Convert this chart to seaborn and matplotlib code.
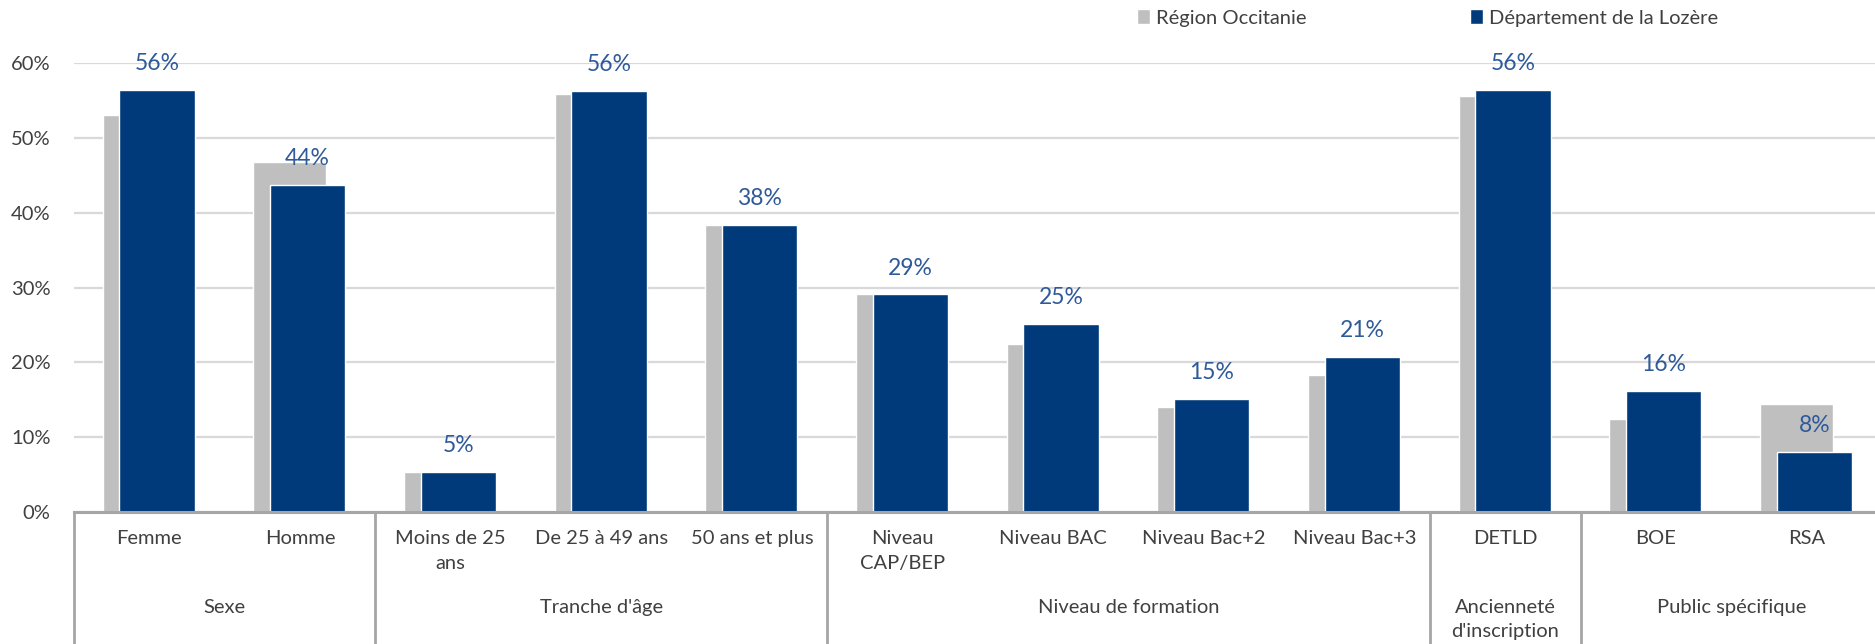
import matplotlib
matplotlib.use('Agg')
import matplotlib.pyplot as plt
import matplotlib.transforms as mtransforms
import numpy as np
import pandas as pd
import seaborn as sns

# données
categories = ['Femme', 'Homme', 'Moins de 25\nans', 'De 25 à 49 ans', '50 ans et plus',
              'Niveau\nCAP/BEP', 'Niveau BAC', 'Niveau Bac+2', 'Niveau Bac+3',
              'DETLD', 'BOE', 'RSA']
groups = ['Sexe', "Tranche d'âge", 'Niveau de formation', 'Ancienneté\nd\'inscription', 'Public spécifique']
group_sizes = [2, 3, 4, 1, 2]
region = [0.531, 0.468, 0.054, 0.559, 0.384, 0.292, 0.225, 0.140, 0.183, 0.557, 0.124, 0.144]
lozere = [0.565, 0.437, 0.053, 0.563, 0.384, 0.291, 0.251, 0.151, 0.207, 0.564, 0.162, 0.080]
labels = ['56%', '44%', '5%', '56%', '38%', '29%', '25%', '15%', '21%', '56%', '16%', '8%']
yticks = [0, 0.1, 0.2, 0.3, 0.4, 0.5, 0.6]

GRAY = '#BFBFBF'
NAVY = '#003A7A'
LABEL_BLUE = '#2F5A9A'
TEXT = '#404040'

sns.set_style('white')
plt.rcParams['font.family'] = ['Lato', 'DejaVu Sans']

idx = np.arange(len(categories))
df = pd.DataFrame({'x_reg': idx - 0.0675, 'x_loz': idx + 0.05,
                   'region': region, 'lozere': lozere})

fig = plt.figure(figsize=(18.75, 6.44), dpi=100)
ax = fig.add_axes([74 / 1875, 132 / 644, 1808 / 1875, (512 - 63.4) / 644])

sns.barplot(data=df, x='x_reg', y='region', native_scale=True, orient='x',
            color=GRAY, saturation=1, width=0.485, errorbar=None,
            label='Région Occitanie', ax=ax, zorder=2)
sns.barplot(data=df, x='x_loz', y='lozere', native_scale=True, orient='x',
            color=NAVY, saturation=1, width=0.5, errorbar=None,
            label='Département de la Lozère', ax=ax, zorder=3)
h, l = ax.get_legend_handles_labels()
if ax.get_legend() is not None:
    ax.get_legend().remove()

# étiquettes de données
for xi, yi, lab in zip(df['x_loz'], lozere, labels):
    ax.annotate(lab, (xi, yi), xytext=(0, 19), textcoords='offset points',
                ha='center', va='center', fontsize=16.5, color=LABEL_BLUE,
                annotation_clip=False, zorder=5)

ax.set_xlim(-0.5, len(categories) - 0.5)
ax.set_ylim(0, 0.6)
ax.set_yticks(yticks)
ax.set_yticklabels([f'{int(round(t * 100))}%' for t in yticks], fontsize=14.5, color=TEXT)
ax.tick_params(axis='y', length=0, pad=17)
ax.set_xticks(idx)
ax.set_xticklabels(categories, fontsize=14.5, color=TEXT, linespacing=1.55)
ax.tick_params(axis='x', length=0, pad=13)
ax.set_xlabel('')
ax.set_ylabel('')

ax.grid(axis='y', color='#D9D9D9', linewidth=1.6, zorder=0)
ax.set_axisbelow(True)
for s in ['left', 'right', 'top']:
    ax.spines[s].set_visible(False)
ax.spines['bottom'].set_color('#A6A6A6')
ax.spines['bottom'].set_linewidth(2.2)
ax.spines['bottom'].set_zorder(4)

# axe multi-niveaux
trans = mtransforms.blended_transform_factory(ax.transData, ax.transAxes)
bounds = np.concatenate([[0], np.cumsum(group_sizes)]) - 0.5
for b in bounds:
    ax.plot([b, b], [0, -0.4], transform=trans, color='#A6A6A6', lw=2,
            clip_on=False, zorder=4)
for g, a, b in zip(groups, bounds[:-1], bounds[1:]):
    ax.text((a + b) / 2, -0.193, g, transform=trans, ha='center', va='top',
            fontsize=14.5, color=TEXT, linespacing=1.5)

# légende
fig.legend(h, l, loc='center left', bbox_to_anchor=(1119 / 1875, 1 - 18 / 644),
           ncol=2, frameon=False, fontsize=14.5, handlelength=0.65, handleheight=0.75,
           handletextpad=0.3, columnspacing=8.1, labelcolor=TEXT)

fig.savefig('out.png', dpi=100, facecolor='white')
